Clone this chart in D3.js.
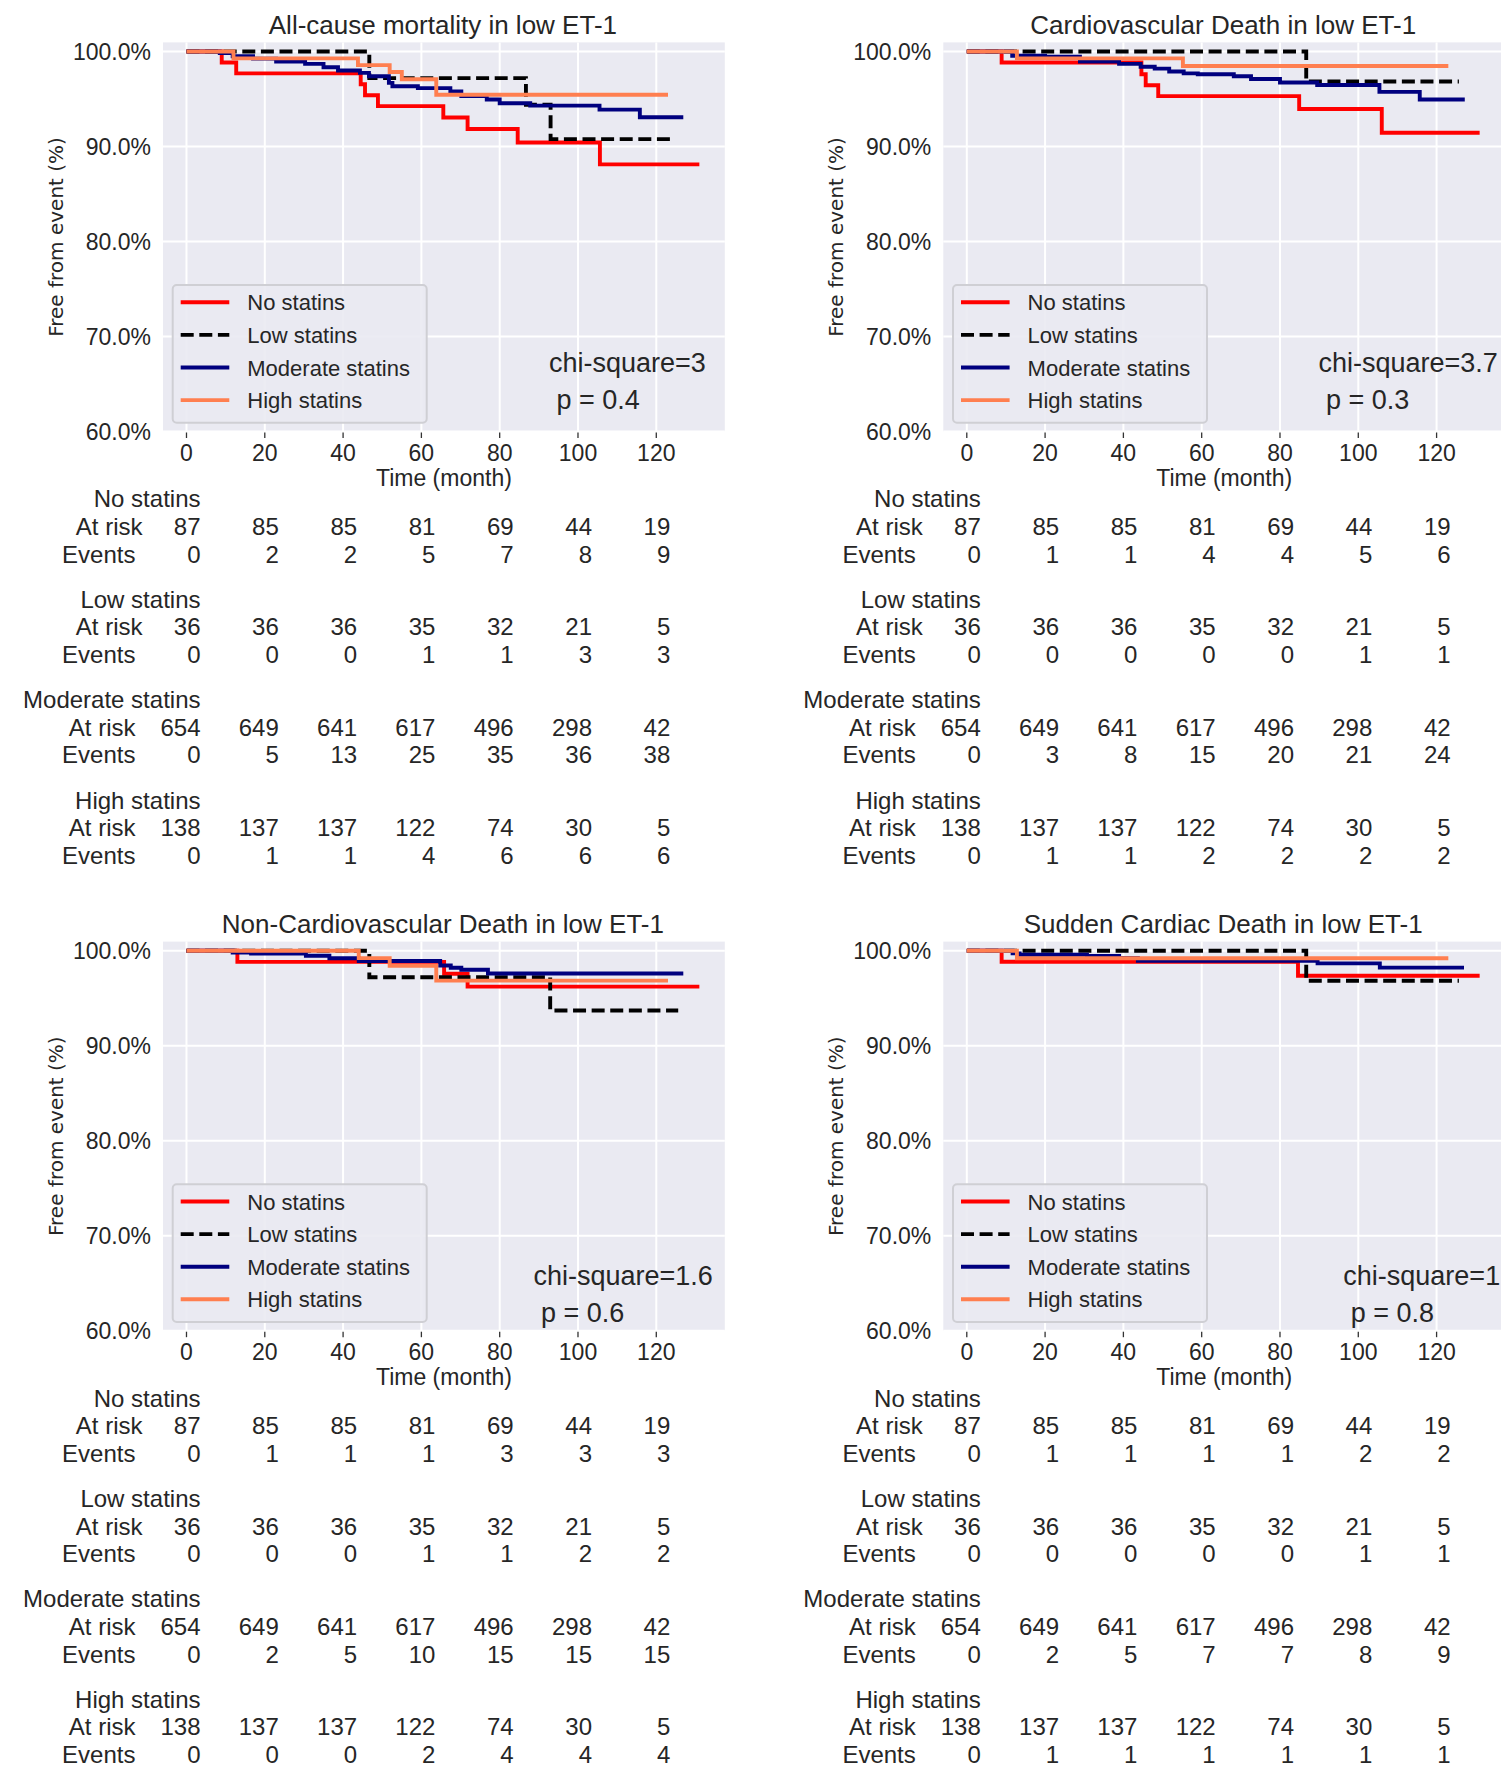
<!DOCTYPE html>
<html>
<head>
<meta charset="utf-8">
<script src="https://cdn.jsdelivr.net/npm/d3@7"></script>
<style>
  html, body { margin: 0; padding: 0; background: #ffffff; }
  svg { display: block; }
</style>
</head>
<body>
<svg id="chart" width="1501" height="1765"></svg>
<script>
// ---------------- DATA ----------------
const groups = ["No statins", "Low statins", "Moderate statins", "High statins"];
const titles = [
  "All-cause mortality in low ET-1",
  "Cardiovascular Death in low ET-1",
  "Non-Cardiovascular Death in low ET-1",
  "Sudden Cardiac Death in low ET-1"
];
const chiTexts = ["chi-square=3", "chi-square=3.7", "chi-square=1.6", "chi-square=1"];
const pTexts = ["p = 0.4", "p = 0.3", "p = 0.6", "p = 0.8"];
const xTicks = [0, 20, 40, 60, 80, 100, 120];
const yTicks = [60, 70, 80, 90, 100];
const xLabel = "Time (month)";
const yLabel = "Free from event (%)";
const rowLabels = ["At risk", "Events"];

// Kaplan-Meier step points [month, survival %]
const allNo   = [[0,100],[9.0,98.85],[12.7,97.7],[44.5,96.55],[45.6,95.4],[48.9,94.25],[65.6,93.05],[71.8,91.85],[84.6,90.42],[105.6,88.12],[131,88.12]];
const allLow  = [[0,100],[46.7,97.2],[86.7,94.4],[93.0,90.78],[124.6,90.78]];
const allMod  = [[0,100],[8.5,99.85],[11.8,99.5],[17,99.25],[22.9,98.95],[30.3,98.7],[35,98.35],[38.7,98.0],[44.3,97.75],[46.6,97.4],[51.7,96.7],[52.6,96.35],[59.1,96.15],[67.4,95.8],[70.2,95.3],[76.7,94.95],[80,94.55],[87.8,94.3],[105.5,93.88],[115.8,93.08],[126.9,93.08]];
const allHigh = [[0,100],[12.0,99.28],[43.8,98.57],[51.9,97.85],[55.0,97.08],[63.8,95.45],[123,95.45]];

const cvNo   = [[0,100],[8.9,98.84],[44.6,97.6],[45.7,96.45],[48.9,95.3],[84.9,93.95],[106,91.45],[131,91.45]];
const cvLow  = [[0,100],[86.7,96.85],[125.7,96.85]];
const cvMod  = [[0,100],[11.6,99.55],[20,99.45],[28.9,98.95],[38.9,98.7],[44.4,98.4],[48,98.2],[51.7,97.9],[55.4,97.7],[59,97.6],[68.2,97.4],[72.6,97.1],[80,96.74],[89.5,96.48],[105.4,95.75],[115.7,94.95],[127.2,94.95]];
const cvHigh = [[0,100],[12.8,99.28],[55.2,98.48],[123,98.48]];

const ncNo   = [[0,100],[13.0,98.83],[65.8,97.58],[71.8,96.22],[131,96.22]];
const ncLow  = [[0,100],[46.7,97.2],[92.9,93.7],[125.6,93.7]];
const ncMod  = [[0,100],[11.8,99.8],[16.5,99.7],[30.5,99.47],[36.5,99.2],[44,98.92],[64.8,98.45],[67.5,98.2],[70.2,98.0],[77,97.6],[126.9,97.6]];
const ncHigh = [[0,100],[44.0,99.22],[51.9,98.4],[63.8,96.85],[123,96.85]];

const scNo   = [[0,100],[8.9,98.84],[84.6,97.36],[131,97.36]];
const scLow  = [[0,100],[86.7,96.84],[125.7,96.84]];
const scMod  = [[0,100],[11.7,99.72],[13.5,99.58],[30.7,99.45],[38.9,99.25],[43.7,98.95],[89.6,98.67],[105.5,98.22],[127,98.22]];
const scHigh = [[0,100],[12.8,99.2],[123,99.2]];

// Number at risk (same for every panel) and cumulative events
const atRiskNo   = [87, 85, 85, 81, 69, 44, 19];
const atRiskLow  = [36, 36, 36, 35, 32, 21, 5];
const atRiskMod  = [654, 649, 641, 617, 496, 298, 42];
const atRiskHigh = [138, 137, 137, 122, 74, 30, 5];

const evAllNo = [0,2,2,5,7,8,9],  evAllLow = [0,0,0,1,1,3,3], evAllMod = [0,5,13,25,35,36,38], evAllHigh = [0,1,1,4,6,6,6];
const evCvNo  = [0,1,1,4,4,5,6],  evCvLow  = [0,0,0,0,0,1,1], evCvMod  = [0,3,8,15,20,21,24], evCvHigh  = [0,1,1,2,2,2,2];
const evNcNo  = [0,1,1,1,3,3,3],  evNcLow  = [0,0,0,1,1,2,2], evNcMod  = [0,2,5,10,15,15,15], evNcHigh  = [0,0,0,2,4,4,4];
const evScNo  = [0,1,1,1,1,2,2],  evScLow  = [0,0,0,0,0,1,1], evScMod  = [0,2,5,7,7,8,9],    evScHigh  = [0,1,1,1,1,1,1];

// ---------------- BUILD ----------------
const atRisk = [atRiskNo, atRiskLow, atRiskMod, atRiskHigh];
const panels = [
  { curves: [allNo, allLow, allMod, allHigh], events: [evAllNo, evAllLow, evAllMod, evAllHigh] },
  { curves: [cvNo, cvLow, cvMod, cvHigh],     events: [evCvNo, evCvLow, evCvMod, evCvHigh] },
  { curves: [ncNo, ncLow, ncMod, ncHigh],     events: [evNcNo, evNcLow, evNcMod, evNcHigh] },
  { curves: [scNo, scLow, scMod, scHigh],     events: [evScNo, evScLow, evScMod, evScHigh] }
];

// styles
const colors = ["#ff0000", "#000000", "#00007f", "#ff7f50"];
const dashes = [null, "13,5.6", null, null];
const FONT = "'Liberation Sans', Arial, Helvetica, sans-serif";
const TXT = "#262626";
const LW = 3.9;

// layout
const colX = [0, 780.3];
const rowY = [0, 899.2];
const chiPos = [[549, 372.3], [1318.4, 372.3], [533.5, 1285], [1343.3, 1285]];

const svg = d3.select("#chart");

panels.forEach((p, i) => {
  const dx = colX[i % 2], dy = rowY[Math.floor(i / 2)];
  const x = d3.scaleLinear().domain([-6.0, 137.5]).range([163 + dx, 724.8 + dx]);
  const y = d3.scaleLinear().domain([60, 100.96]).range([431.5 + dy, 42.4 + dy]);
  const g = svg.append("g");
  const [x0, x1] = x.range(), [yb, yt] = y.range();

  // background
  g.append("rect").attr("x", x0).attr("y", yt).attr("width", x1 - x0).attr("height", yb - yt)
    .attr("fill", "#eaeaf2");

  // grid
  g.selectAll(".gx").data(xTicks).join("line")
    .attr("x1", d => x(d)).attr("x2", d => x(d)).attr("y1", yt).attr("y2", yb)
    .attr("stroke", "#ffffff").attr("stroke-width", 2);
  g.selectAll(".gy").data(yTicks).join("line")
    .attr("x1", x0).attr("x2", x1).attr("y1", d => y(d)).attr("y2", d => y(d))
    .attr("stroke", "#ffffff").attr("stroke-width", 2);

  // small tick marks below plot
  g.selectAll(".tk").data(xTicks).join("line")
    .attr("x1", d => x(d)).attr("x2", d => x(d)).attr("y1", yb + 1).attr("y2", yb + 6.5)
    .attr("stroke", "#333").attr("stroke-width", 1.3);

  // tick labels
  g.selectAll(".xl").data(xTicks).join("text")
    .attr("x", d => x(d)).attr("y", yb + 29.3)
    .attr("text-anchor", "middle").attr("font-family", FONT).attr("font-size", 23).attr("fill", TXT)
    .text(d => d);
  g.selectAll(".yl").data(yTicks).join("text")
    .attr("x", x0 - 12).attr("y", d => y(d) + 8.2)
    .attr("text-anchor", "end").attr("font-family", FONT).attr("font-size", 23).attr("fill", TXT)
    .text(d => d3.format(".1f")(d) + "%");

  // axis labels & title
  g.append("text").attr("x", (x0 + x1) / 2).attr("y", 486 + dy)
    .attr("text-anchor", "middle").attr("font-family", FONT).attr("font-size", 23).attr("fill", TXT)
    .text(xLabel);
  g.append("text").attr("transform", `translate(${63 + dx},${(yt + yb) / 2}) rotate(-90)`)
    .attr("text-anchor", "middle").attr("font-family", "'DejaVu Sans', sans-serif").attr("font-size", 20).attr("fill", TXT)
    .text(yLabel);
  g.append("text").attr("x", (x0 + x1) / 2 - 1).attr("y", 33.8 + dy)
    .attr("text-anchor", "middle").attr("font-family", FONT).attr("font-size", 26).attr("fill", TXT)
    .text(titles[i]);

  // curves
  const clipId = "clip" + i;
  svg.append("clipPath").attr("id", clipId).append("rect")
    .attr("x", x0).attr("y", yt).attr("width", x1 - x0).attr("height", yb - yt);
  const line = d3.line().x(d => x(d[0])).y(d => y(d[1])).curve(d3.curveStepAfter);
  const cg = g.append("g").attr("clip-path", `url(#${clipId})`);
  p.curves.forEach((c, k) => {
    cg.append("path").attr("d", line(c)).attr("fill", "none")
      .attr("stroke", colors[k]).attr("stroke-width", LW)
      .attr("stroke-dasharray", dashes[k])
      .attr("stroke-linejoin", "miter").attr("stroke-linecap", "butt");
  });

  // legend
  const lx = 172.7 + dx, ly = 285 + dy;
  g.append("rect").attr("x", lx).attr("y", ly).attr("width", 254).attr("height", 137.7)
    .attr("rx", 4).attr("fill", "#eaeaf2").attr("fill-opacity", 0.9)
    .attr("stroke", "#cfcfd4").attr("stroke-width", 2);
  groups.forEach((name, k) => {
    const yy = ly + 17.3 + k * 32.6;
    g.append("line").attr("x1", lx + 8).attr("x2", lx + 56.6).attr("y1", yy).attr("y2", yy)
      .attr("stroke", colors[k]).attr("stroke-width", LW).attr("stroke-dasharray", dashes[k]);
    g.append("text").attr("x", lx + 74.6).attr("y", yy + 8)
      .attr("font-family", FONT).attr("font-size", 22).attr("fill", TXT).text(name);
  });

  // chi-square annotation
  const [cx, cy] = chiPos[i];
  g.append("text").attr("x", cx).attr("y", cy).attr("font-family", FONT).attr("font-size", 27).attr("fill", TXT)
    .text(chiTexts[i]);
  g.append("text").attr("x", cx + 7.5).attr("y", cy + 36.5).attr("font-family", FONT).attr("font-size", 27).attr("fill", TXT)
    .text(pTexts[i]);

  // at-risk table
  groups.forEach((name, k) => {
    const gy = 507.3 + dy + k * 100.4;
    const xr = x(0) + 14;
    g.append("text").attr("x", xr).attr("y", gy).attr("text-anchor", "end")
      .attr("font-family", FONT).attr("font-size", 24).attr("fill", TXT).text(name);
    const rows = [atRisk[k], p.events[k]];
    rows.forEach((vals, r) => {
      const ry = gy + 27.6 * (r + 1);
      const lblRight = (r === 0 && vals[0] < 100) ? x(0) - 44 : x(0) - 51;
      g.append("text").attr("x", lblRight).attr("y", ry).attr("text-anchor", "end")
        .attr("font-family", FONT).attr("font-size", 24).attr("fill", TXT).text(rowLabels[r]);
      g.selectAll(null).data(vals).join("text")
        .attr("x", (d, j) => x(xTicks[j]) + 14).attr("y", ry).attr("text-anchor", "end")
        .attr("font-family", FONT).attr("font-size", 24).attr("fill", TXT).text(d => d);
    });
  });
});
</script>
</body>
</html>
